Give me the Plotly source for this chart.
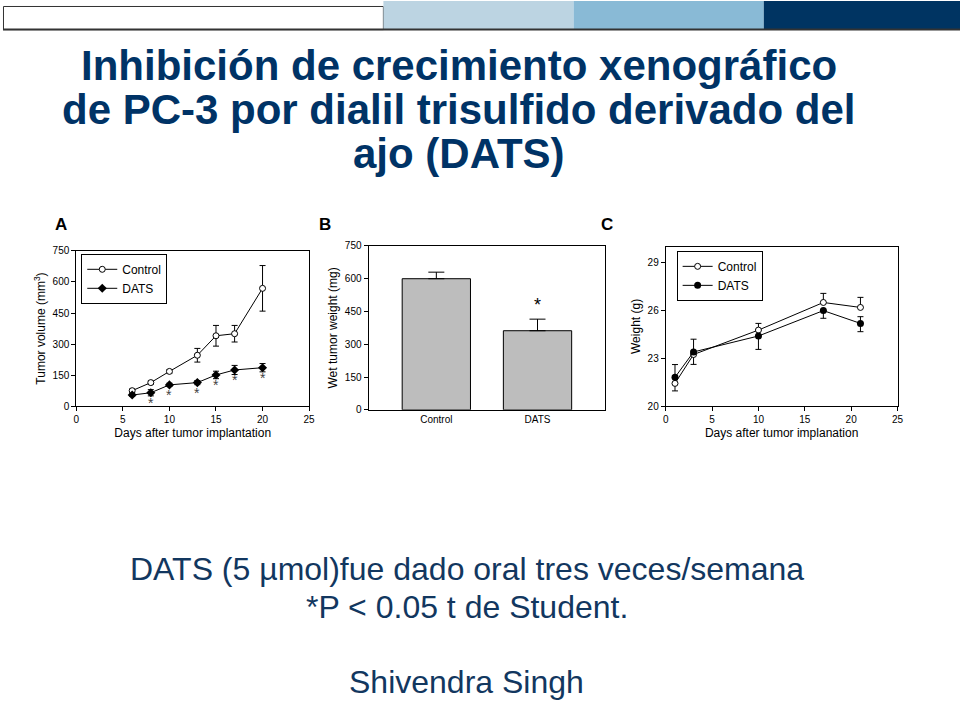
import plotly.graph_objects as go

FONT = "Liberation Sans, Arial, sans-serif"
NAVY = "#003366"
TEXT_NAVY = "#12375f"

# ---------------- Panel A: tumor volume ----------------
a_days = [6, 8, 10, 13, 15, 17, 20]
a_ctrl = [75, 114, 168, 246, 340, 350, 569]
a_ctrl_err = [8, 8, 8, 33, 50, 40, 110]
a_dats = [54, 65, 103, 114, 151, 175, 186]
a_dats_err = [6, 15, 8, 10, 18, 22, 20]
a_star_days = [8, 10, 13, 15, 17, 20]
a_star_base = [65, 103, 114, 151, 175, 186]
a_xticks = [0, 5, 10, 15, 20, 25]
a_yticks = [0, 150, 300, 450, 600, 750]

# ---------------- Panel B: wet tumor weight ----------------
b_groups = ["Control", "DATS"]
b_values = [600, 362]
b_err = [30, 53]
b_yticks = [0, 150, 300, 450, 600, 750]

# ---------------- Panel C: body weight ----------------
c_days = [1, 3, 10, 17, 21]
c_ctrl = [21.43, 23.24, 24.77, 26.5, 26.19]
c_ctrl_plus = [0, 0, 0.42, 0.57, 0.63]
c_ctrl_minus = [0.47, 0.62, 0, 0, 0]
c_dats = [21.81, 23.4, 24.4, 25.99, 25.19]
c_dats_plus = [0.8, 0.8, 0, 0, 0.42]
c_dats_minus = [0, 0, 0.84, 0.48, 0.52]
c_xticks = [0, 5, 10, 15, 20, 25]
c_yticks = [20, 23, 26, 29]

title_lines = ["Inhibición de crecimiento xenográfico",
               "de PC-3 por dialil trisulfido derivado del",
               "ajo (DATS)"]
bottom_lines = ["DATS (5 µmol)fue dado oral tres veces/semana",
                "*P < 0.05 t de Student.",
                "Shivendra Singh"]

W, H = 960, 720


def px(x):
    return x / W


def py(y):
    return 1 - y / H


fig = go.Figure()

# Panel A traces
fig.add_trace(go.Scatter(
    x=a_days, y=a_ctrl, mode="lines+markers", name="Control",
    line=dict(color="black", width=1),
    marker=dict(symbol="circle", size=6, color="white", line=dict(color="black", width=1)),
    error_y=dict(type="data", array=a_ctrl_err, color="black", thickness=1, width=3),
    xaxis="x", yaxis="y", legend="legend"))
fig.add_trace(go.Scatter(
    x=a_days, y=a_dats, mode="lines+markers", name="DATS",
    line=dict(color="black", width=1),
    marker=dict(symbol="diamond", size=7, color="black"),
    error_y=dict(type="data", array=a_dats_err, color="black", thickness=1, width=3),
    xaxis="x", yaxis="y", legend="legend"))

# Panel B bars
fig.add_trace(go.Bar(
    x=b_groups, y=b_values, width=0.675,
    marker=dict(color="#bdbdbd", line=dict(color="black", width=1)),
    error_y=dict(type="data", symmetric=False, array=b_err, arrayminus=[0, 0],
                 color="black", thickness=1, width=8),
    xaxis="x2", yaxis="y2", showlegend=False))

# Panel C traces
fig.add_trace(go.Scatter(
    x=c_days, y=c_ctrl, mode="lines+markers", name="Control",
    line=dict(color="black", width=1),
    marker=dict(symbol="circle", size=6, color="white", line=dict(color="black", width=1)),
    error_y=dict(type="data", symmetric=False, array=c_ctrl_plus, arrayminus=c_ctrl_minus,
                 color="black", thickness=1, width=3),
    xaxis="x3", yaxis="y3", legend="legend2"))
fig.add_trace(go.Scatter(
    x=c_days, y=c_dats, mode="lines+markers", name="DATS",
    line=dict(color="black", width=1),
    marker=dict(symbol="circle", size=7, color="black"),
    error_y=dict(type="data", symmetric=False, array=c_dats_plus, arrayminus=c_dats_minus,
                 color="black", thickness=1, width=3),
    xaxis="x3", yaxis="y3", legend="legend2"))

tickfont = dict(family=FONT, size=10, color="black")
titlefont = dict(family=FONT, size=12, color="black")
axis_common = dict(showline=True, linecolor="black", linewidth=1, mirror=True,
                   showgrid=False, zeroline=False, ticks="outside", ticklen=4,
                   tickcolor="black", tickfont=tickfont)

annotations = []

# Title
title_base = [78, 122, 167]
for line, base in zip(title_lines, title_base):
    annotations.append(dict(x=px(460), y=py(base - 17), xref="paper", yref="paper",
                            text="<b>%s</b>" % line, showarrow=False,
                            xanchor="center", yanchor="middle",
                            font=dict(family=FONT, size=42, color=NAVY)))

# Bottom text
bottom_base = [580, 618, 694]
for line, base in zip(bottom_lines, bottom_base):
    annotations.append(dict(x=px(468), y=py(base - 7), xref="paper", yref="paper",
                            text=line, showarrow=False,
                            xanchor="center", yanchor="middle",
                            font=dict(family=FONT, size=32, color=TEXT_NAVY)))

# Panel labels
for lab, xx in zip(["A", "B", "C"], [59, 325, 610]):
    annotations.append(dict(x=px(xx), y=py(222), xref="paper", yref="paper",
                            text="<b>%s</b>" % lab, showarrow=False,
                            xanchor="center", yanchor="middle",
                            font=dict(family=FONT, size=17, color="black")))

# Significance stars panel A
for d, v in zip(a_star_days, a_star_base):
    annotations.append(dict(x=d, y=v, xref="x", yref="y", text="*", showarrow=False,
                            xanchor="center", yanchor="top", yshift=0,
                            font=dict(family=FONT, size=14, color="#444444")))

# Star panel B
annotations.append(dict(x=b_groups[1], y=b_values[1] + b_err[1], xref="x2", yref="y2",
                        text="*", showarrow=False, xanchor="center", yanchor="bottom",
                        yshift=2, font=dict(family=FONT, size=18, color="black")))

shapes = [
    dict(type="rect", xref="paper", yref="paper", x0=px(0.5), x1=px(384), y0=py(0.5), y1=py(24),
         fillcolor="white", line=dict(color="#333333", width=1)),
    dict(type="rect", xref="paper", yref="paper", x0=px(384), x1=px(576), y0=py(-5), y1=py(24),
         fillcolor="#bcd4e2", line=dict(width=0)),
    dict(type="rect", xref="paper", yref="paper", x0=px(576), x1=px(768), y0=py(-5), y1=py(24),
         fillcolor="#89bad6", line=dict(width=0)),
    dict(type="rect", xref="paper", yref="paper", x0=px(768), x1=px(975), y0=py(-5), y1=py(24),
         fillcolor="#003462", line=dict(width=0)),
    dict(type="line", xref="paper", yref="paper", x0=0, x1=px(975), y0=py(24), y1=py(24),
         line=dict(color="#333333", width=2)),
]

legend_common = dict(bgcolor="white", bordercolor="black", borderwidth=1,
                     font=dict(family=FONT, size=12, color="black"),
                     xanchor="left", yanchor="top", tracegroupgap=0,
                     itemwidth=30)

fig.update_layout(
    width=W, height=H, margin=dict(l=0, r=0, t=0, b=0),
    paper_bgcolor="white", plot_bgcolor="white",
    font=dict(family=FONT, color="black"),
    xaxis=dict(domain=[px(74), px(309)], anchor="y", range=[0, 25], tickvals=a_xticks,
               title=dict(text="Days after tumor implantation", font=titlefont, standoff=4),
               **axis_common),
    yaxis=dict(domain=[py(407), py(249)], anchor="x", range=[0, 750], tickvals=a_yticks,
               title=dict(text="Tumor volume (mm<sup>3</sup>)", font=titlefont, standoff=4),
               **axis_common),
    xaxis2=dict(domain=[px(369), px(608)], anchor="y2", range=[-0.67, 1.67],
                showline=True, linecolor="black", linewidth=1, mirror=True,
                showgrid=False, zeroline=False, ticks="", tickfont=tickfont),
    yaxis2=dict(domain=[py(410.7), py(244)], anchor="x2", range=[0, 750], tickvals=b_yticks,
                title=dict(text="Wet tumor weight (mg)", font=titlefont, standoff=4),
                **axis_common),
    xaxis3=dict(domain=[px(669), px(903)], anchor="y3", range=[0, 25], tickvals=c_xticks,
                title=dict(text="Days after tumor implanation", font=titlefont, standoff=4),
                **axis_common),
    yaxis3=dict(domain=[py(407), py(244.7)], anchor="x3", range=[20, 30], tickvals=c_yticks,
                title=dict(text="Weight (g)", font=titlefont, standoff=4),
                **axis_common),
    legend=dict(x=px(79), y=py(252), **legend_common),
    legend2=dict(x=px(680), y=py(249), **legend_common),
    annotations=annotations,
    shapes=shapes,
)

fig.write_html(
    "out.html",
    config={"displayModeBar": False},
    post_script="document.body.style.margin='0';document.body.style.padding='0';"
                "document.body.style.overflow='hidden';",
)
